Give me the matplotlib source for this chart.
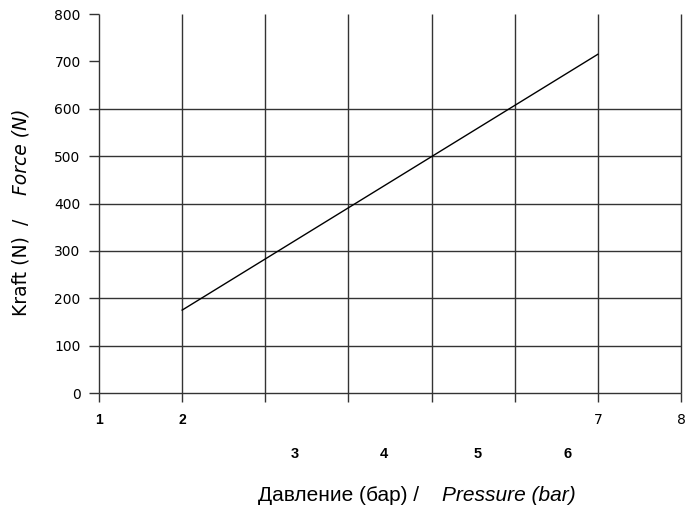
import numpy as np
import matplotlib.pyplot as plt

# pressure (bar) vs force (N)
pressure = [2, 7]
force = [175, 715]

x_ticks = [1, 2, 3, 4, 5, 6, 7, 8]
x_tick_labels = ["1", "2", "", "", "", "", "7", "8"]
y_ticks = [0, 100, 200, 300, 400, 500, 600, 700, 800]
grid_y = [0, 100, 200, 300, 400, 500, 600]

# second row of labels, shifted as in the original sheet
row2_labels = ["3", "4", "5", "6"]
row2_pos = [3.35, 4.43, 5.55, 6.63]

fig = plt.figure(figsize=(6.88, 5.13), dpi=100)
ax = fig.add_axes([0.1439, 0.2339, 0.8459, 0.7388])

ax.set_xlim(1, 8)
ax.set_ylim(0, 800)

ax.vlines(x_ticks, 0, 800, color='#333333', linewidth=1.0, clip_on=False)
ax.hlines(grid_y, 1, 8, color='#333333', linewidth=1.0, clip_on=False)
ax.plot(pressure, force, color='black', linewidth=1.0)

for s in ax.spines.values():
    s.set_visible(False)

ax.set_xticks(x_ticks)
ax.set_xticklabels(x_tick_labels)
ax.set_yticks(y_ticks)
ax.tick_params(axis='both', width=1.0, color='#333333', labelsize=10)
ax.tick_params(axis='x', length=6.5, pad=8)
ax.tick_params(axis='y', length=7.2, pad=6)
for lbl in ax.get_xticklabels()[:2]:
    lbl.set_fontweight('bold')
    lbl.set_family('Liberation Sans')

xt = ax.get_xaxis_transform()
for lab, p in zip(row2_labels, row2_pos):
    ax.text(p, -0.162, lab, transform=xt, ha='center', va='center',
            fontsize=10.5, fontweight='bold', family='Liberation Sans')

fig.text(0.375, 0.034, "Давление (бар) /", family='Liberation Sans',
         fontsize=15, ha='left', va='center')
fig.text(0.642, 0.034, "Pressure (bar)", family='Liberation Sans',
         fontsize=15, style='italic', ha='left', va='center')

fig.text(0.031, 0.384, "Kraft (N)", rotation=90, fontsize=13.5,
         ha='center', va='bottom')
fig.text(0.031, 0.567, "/", rotation=90, fontsize=13.5,
         ha='center', va='center')
fig.text(0.031, 0.620, "Force (N)", rotation=90, fontsize=13.5,
         style='italic', ha='center', va='bottom')

fig.savefig("out.png", dpi=100)
